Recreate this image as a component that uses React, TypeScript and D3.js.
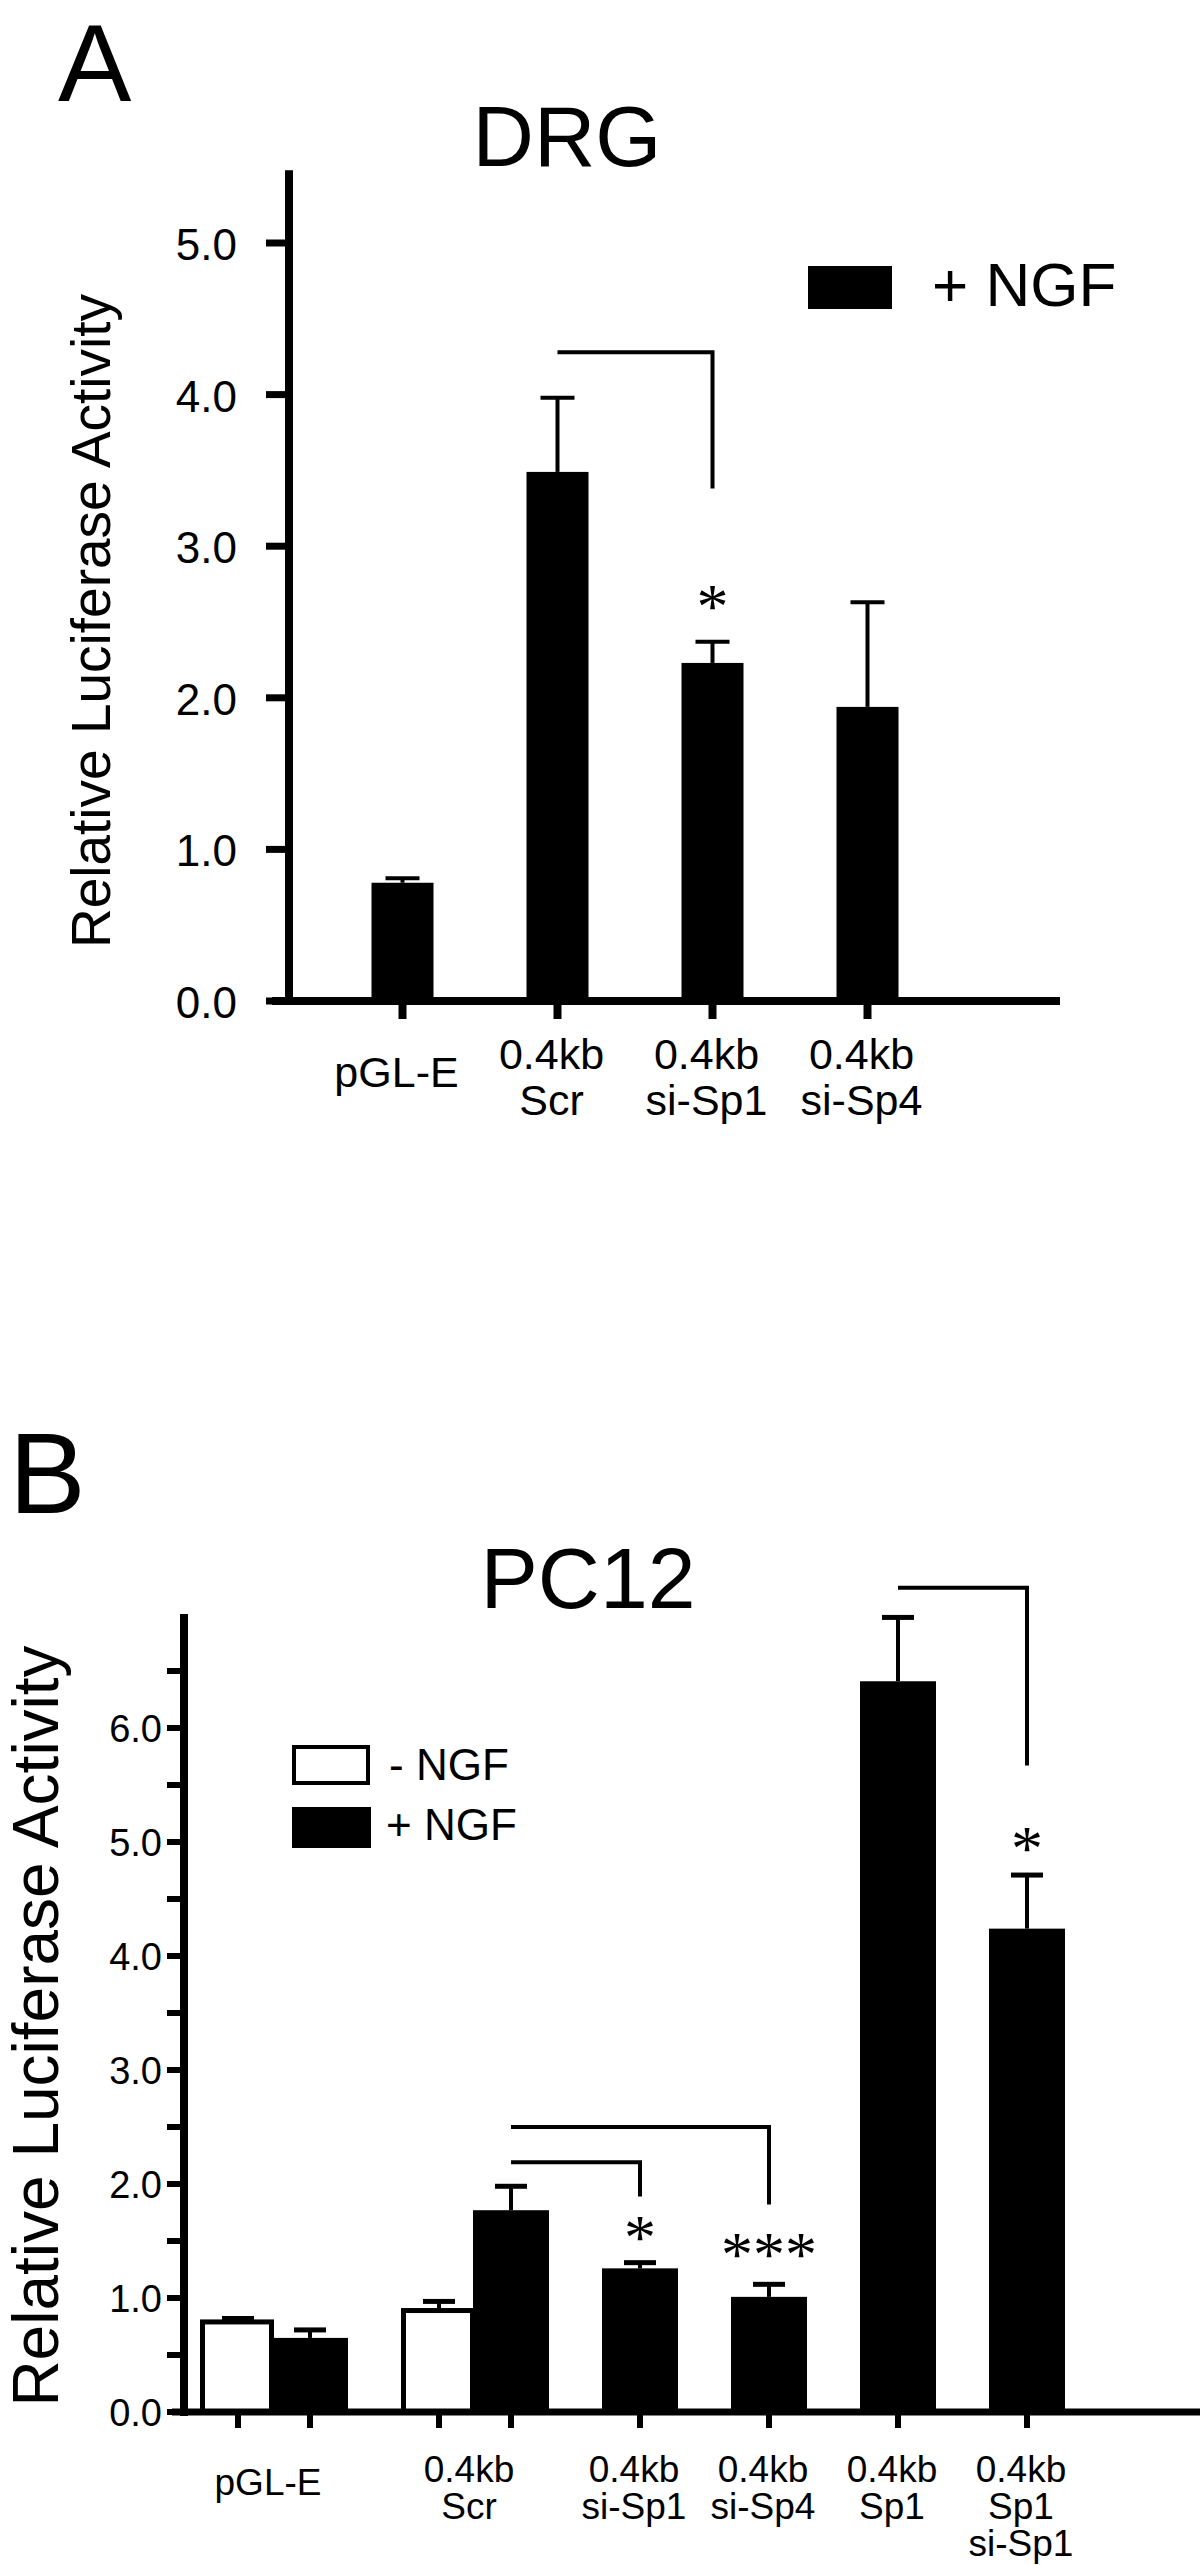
import React from 'react';
import * as d3 from 'd3';

// ---------- Panel A (DRG) data ----------
const drgCategories = ['pGL-E', '0.4kb Scr', '0.4kb si-Sp1', '0.4kb si-Sp4'];
const drgLabelLines = [['pGL-E'], ['0.4kb', 'Scr'], ['0.4kb', 'si-Sp1'], ['0.4kb', 'si-Sp4']];
const drgValues = [0.78, 3.49, 2.23, 1.94];
const drgErrors = [0.03, 0.49, 0.14, 0.69];
const drgTicks = [0, 1, 2, 3, 4, 5];
const drgLegend = ['+ NGF'];
// bracket: from category, to category, bracket level, drop end, star label, star level
const drgBrackets = [{ from: '0.4kb Scr', to: '0.4kb si-Sp1', level: 4.28, drop: 3.38, star: '*', starLevel: 2.66 }];

// ---------- Panel B (PC12) data ----------
const pcGroups = ['pGL-E', '0.4kb Scr', '0.4kb si-Sp1', '0.4kb si-Sp4', '0.4kb Sp1', '0.4kb Sp1 si-Sp1'];
const pcLabelLines = [['pGL-E'], ['0.4kb', 'Scr'], ['0.4kb', 'si-Sp1'], ['0.4kb', 'si-Sp4'], ['0.4kb', 'Sp1'], ['0.4kb', 'Sp1', 'si-Sp1']];
const pcMinusNGF: (number | null)[] = [0.79, 0.89, null, null, null, null];
const pcMinusErr: (number | null)[] = [0.03, 0.08, null, null, null, null];
const pcPlusNGF = [0.65, 1.77, 1.26, 1.01, 6.41, 4.24];
const pcPlusErr = [0.07, 0.21, 0.05, 0.11, 0.56, 0.47];
const pcMajorTicks = [0, 1, 2, 3, 4, 5, 6];
const pcMinorTicks = [0.5, 1.5, 2.5, 3.5, 4.5, 5.5, 6.5];
const pcLegend = ['- NGF', '+ NGF'];
const pcBrackets = [
  { from: '0.4kb Scr', to: '0.4kb si-Sp1', level: 2.19, drop: 1.89, star: '*', starLevel: 1.61 },
  { from: '0.4kb Scr', to: '0.4kb si-Sp4', level: 2.5, drop: 1.82, star: '***', starLevel: 1.46 },
  { from: '0.4kb Sp1', to: '0.4kb Sp1 si-Sp1', level: 7.23, drop: 5.67, star: '*', starLevel: 5.02 },
];

const SANS = "'Liberation Sans', Arial, Helvetica, sans-serif";
const SERIF = "'Liberation Serif', 'Times New Roman', serif";
const fmt = d3.format('.1f');

function PanelA() {
  const yA = d3.scaleLinear().domain([0, 5]).range([1001, 243]);
  const xA = d3.scalePoint<string>().domain(drgCategories).range([325, 945]).padding(0.5);
  const barW = 62;
  const axisX = 289;
  const y0 = yA(0);
  const starFs = 64;
  return (
    <g>
      <text x={58} y={101} fontFamily={SANS} fontSize={110}>A</text>
      <text x={567} y={166} fontFamily={SANS} fontSize={85} textAnchor="middle">DRG</text>
      {/* bars */}
      {drgCategories.map((c, i) => {
        const cx = xA(c)!;
        const v = drgValues[i];
        const e = drgErrors[i];
        return (
          <g key={c}>
            <line x1={cx} x2={cx} y1={yA(v)} y2={yA(v + e)} stroke="#000" strokeWidth={4} />
            <line x1={cx - 17} x2={cx + 17} y1={yA(v + e)} y2={yA(v + e)} stroke="#000" strokeWidth={4} />
            <rect x={cx - barW / 2} y={yA(v)} width={barW} height={y0 - yA(v)} fill="#000" />
          </g>
        );
      })}
      {/* y axis */}
      <line x1={axisX} x2={axisX} y1={yA(5.48)} y2={y0 + 4} stroke="#000" strokeWidth={8} />
      {drgTicks.map((t) => (
        <g key={t}>
          <line x1={266} x2={axisX} y1={yA(t)} y2={yA(t)} stroke="#000" strokeWidth={7} />
          <text x={237} y={yA(t) + 17} fontFamily={SANS} fontSize={44} textAnchor="end">{fmt(t)}</text>
        </g>
      ))}
      {/* x axis */}
      <line x1={272} x2={1060} y1={y0} y2={y0} stroke="#000" strokeWidth={8} />
      {drgCategories.map((c, i) => {
        const cx = xA(c)!;
        const lines = drgLabelLines[i];
        return (
          <g key={c}>
            <line x1={cx} x2={cx} y1={y0} y2={y0 + 18} stroke="#000" strokeWidth={8} />
            {lines.map((ln, j) => (
              <text key={j} x={cx - 6} y={lines.length === 1 ? 1087 : 1069 + j * 46} fontFamily={SANS} fontSize={43} textAnchor="middle">{ln}</text>
            ))}
          </g>
        );
      })}
      {/* y label */}
      <text transform={`translate(110,621) rotate(-90)`} fontFamily={SANS} fontSize={55} textAnchor="middle">Relative Luciferase Activity</text>
      {/* legend */}
      <rect x={808} y={266} width={84} height={43} fill="#000" />
      <text x={932} y={306} fontFamily={SANS} fontSize={62}>{drgLegend[0]}</text>
      {/* brackets */}
      {drgBrackets.map((b, k) => {
        const x1 = xA(b.from)!;
        const x2 = xA(b.to)!;
        return (
          <g key={k}>
            <path d={`M${x1},${yA(b.level)} H${x2} V${yA(b.drop)}`} fill="none" stroke="#000" strokeWidth={4} />
            <text x={x2} y={yA(b.starLevel) + 0.47 * starFs} fontFamily={SERIF} fontSize={starFs} textAnchor="middle">{b.star}</text>
          </g>
        );
      })}
    </g>
  );
}

type BarB = { group: string; cond: 'minus' | 'plus'; value: number; err: number; slot: number; gi: number };

function PanelB() {
  const yB = d3.scaleLinear().domain([0, 7]).range([2412, 1614]);
  const bars: BarB[] = [];
  let slot = 0;
  pcGroups.forEach((g, gi) => {
    const mv = pcMinusNGF[gi];
    const me = pcMinusErr[gi];
    if (mv != null && me != null) {
      bars.push({ group: g, cond: 'minus', value: mv, err: me, slot, gi });
      slot++;
    }
    bars.push({ group: g, cond: 'plus', value: pcPlusNGF[gi], err: pcPlusErr[gi], slot, gi });
    slot++;
  });
  const xSlot = d3.scaleLinear().domain([0, 1]).range([200, 272]);
  const gapRatio = 57 / 72;
  const barW = 76;
  const left = (b: BarB) => xSlot(b.slot + b.gi * gapRatio);
  const center = (b: BarB) => left(b) + barW / 2;
  const plusCenter = (g: string) => center(bars.find((b) => b.group === g && b.cond === 'plus')!);
  const groupCenter = (g: string) => d3.mean(bars.filter((b) => b.group === g), center)!;
  const y0 = yB(0);
  const axisX = 184;
  const starFs = 64;
  return (
    <g>
      <text x={9} y={1513} fontFamily={SANS} fontSize={115}>B</text>
      <text x={588} y={1608} fontFamily={SANS} fontSize={86} textAnchor="middle">PC12</text>
      {bars.map((b, i) => {
        const cx = center(b);
        const top = yB(b.value);
        const et = yB(b.value + b.err);
        const white = b.cond === 'minus';
        return (
          <g key={i}>
            <line x1={cx} x2={cx} y1={top} y2={et} stroke="#000" strokeWidth={4} />
            <line x1={cx - 16} x2={cx + 16} y1={et} y2={et} stroke="#000" strokeWidth={5} />
            {white ? (
              <rect x={left(b) + 2.5} y={top} width={barW - 7} height={y0 - top} fill="#fff" stroke="#000" strokeWidth={5} />
            ) : (
              <rect x={left(b)} y={top} width={barW} height={y0 - top} fill="#000" />
            )}
          </g>
        );
      })}
      {/* y axis */}
      <line x1={axisX} x2={axisX} y1={yB(7)} y2={y0 + 4} stroke="#000" strokeWidth={8} />
      {pcMinorTicks.map((t) => (
        <line key={'m' + t} x1={167} x2={axisX} y1={yB(t)} y2={yB(t)} stroke="#000" strokeWidth={6} />
      ))}
      {pcMajorTicks.map((t) => (
        <g key={t}>
          <line x1={167} x2={axisX} y1={yB(t)} y2={yB(t)} stroke="#000" strokeWidth={6} />
          <text x={162} y={yB(t) + 14} fontFamily={SANS} fontSize={38} textAnchor="end">{fmt(t)}</text>
        </g>
      ))}
      {/* x axis */}
      <line x1={172} x2={1200} y1={y0} y2={y0} stroke="#000" strokeWidth={7} />
      {bars.map((b, i) => (
        <line key={'t' + i} x1={center(b)} x2={center(b)} y1={y0} y2={y0 + 16} stroke="#000" strokeWidth={6} />
      ))}
      {pcGroups.map((g, gi) => {
        const lines = pcLabelLines[gi];
        const cx = groupCenter(g) - 6;
        return (
          <g key={g}>
            {lines.map((ln, j) => (
              <text key={j} x={cx} y={lines.length === 1 ? 2495 : 2482 + j * 37} fontFamily={SANS} fontSize={37} textAnchor="middle">{ln}</text>
            ))}
          </g>
        );
      })}
      {/* y label */}
      <text transform={`translate(58,2026) rotate(-90)`} fontFamily={SANS} fontSize={64} textAnchor="middle">Relative Luciferase Activity</text>
      {/* legend */}
      <rect x={294} y={1747} width={74} height={36} fill="#fff" stroke="#000" strokeWidth={4} />
      <text x={389} y={1780} fontFamily={SANS} fontSize={44}>{pcLegend[0]}</text>
      <rect x={292} y={1807} width={79} height={41} fill="#000" />
      <text x={386} y={1840} fontFamily={SANS} fontSize={44}>{pcLegend[1]}</text>
      {/* brackets */}
      {pcBrackets.map((b, k) => {
        const x1 = plusCenter(b.from);
        const x2 = plusCenter(b.to);
        return (
          <g key={k}>
            <path d={`M${x1},${yB(b.level)} H${x2} V${yB(b.drop)}`} fill="none" stroke="#000" strokeWidth={4} />
            <text x={x2} y={yB(b.starLevel) + 0.47 * starFs} fontFamily={SERIF} fontSize={starFs} textAnchor="middle">{b.star}</text>
          </g>
        );
      })}
    </g>
  );
}

export default function App() {
  return (
    <svg
      width={1200}
      height={2565}
      viewBox="0 0 1200 2565"
      style={{ position: 'absolute', left: 0, top: 0, background: '#fff' }}
    >
      <rect x={0} y={0} width={1200} height={2565} fill="#fff" />
      <PanelA />
      <PanelB />
    </svg>
  );
}
